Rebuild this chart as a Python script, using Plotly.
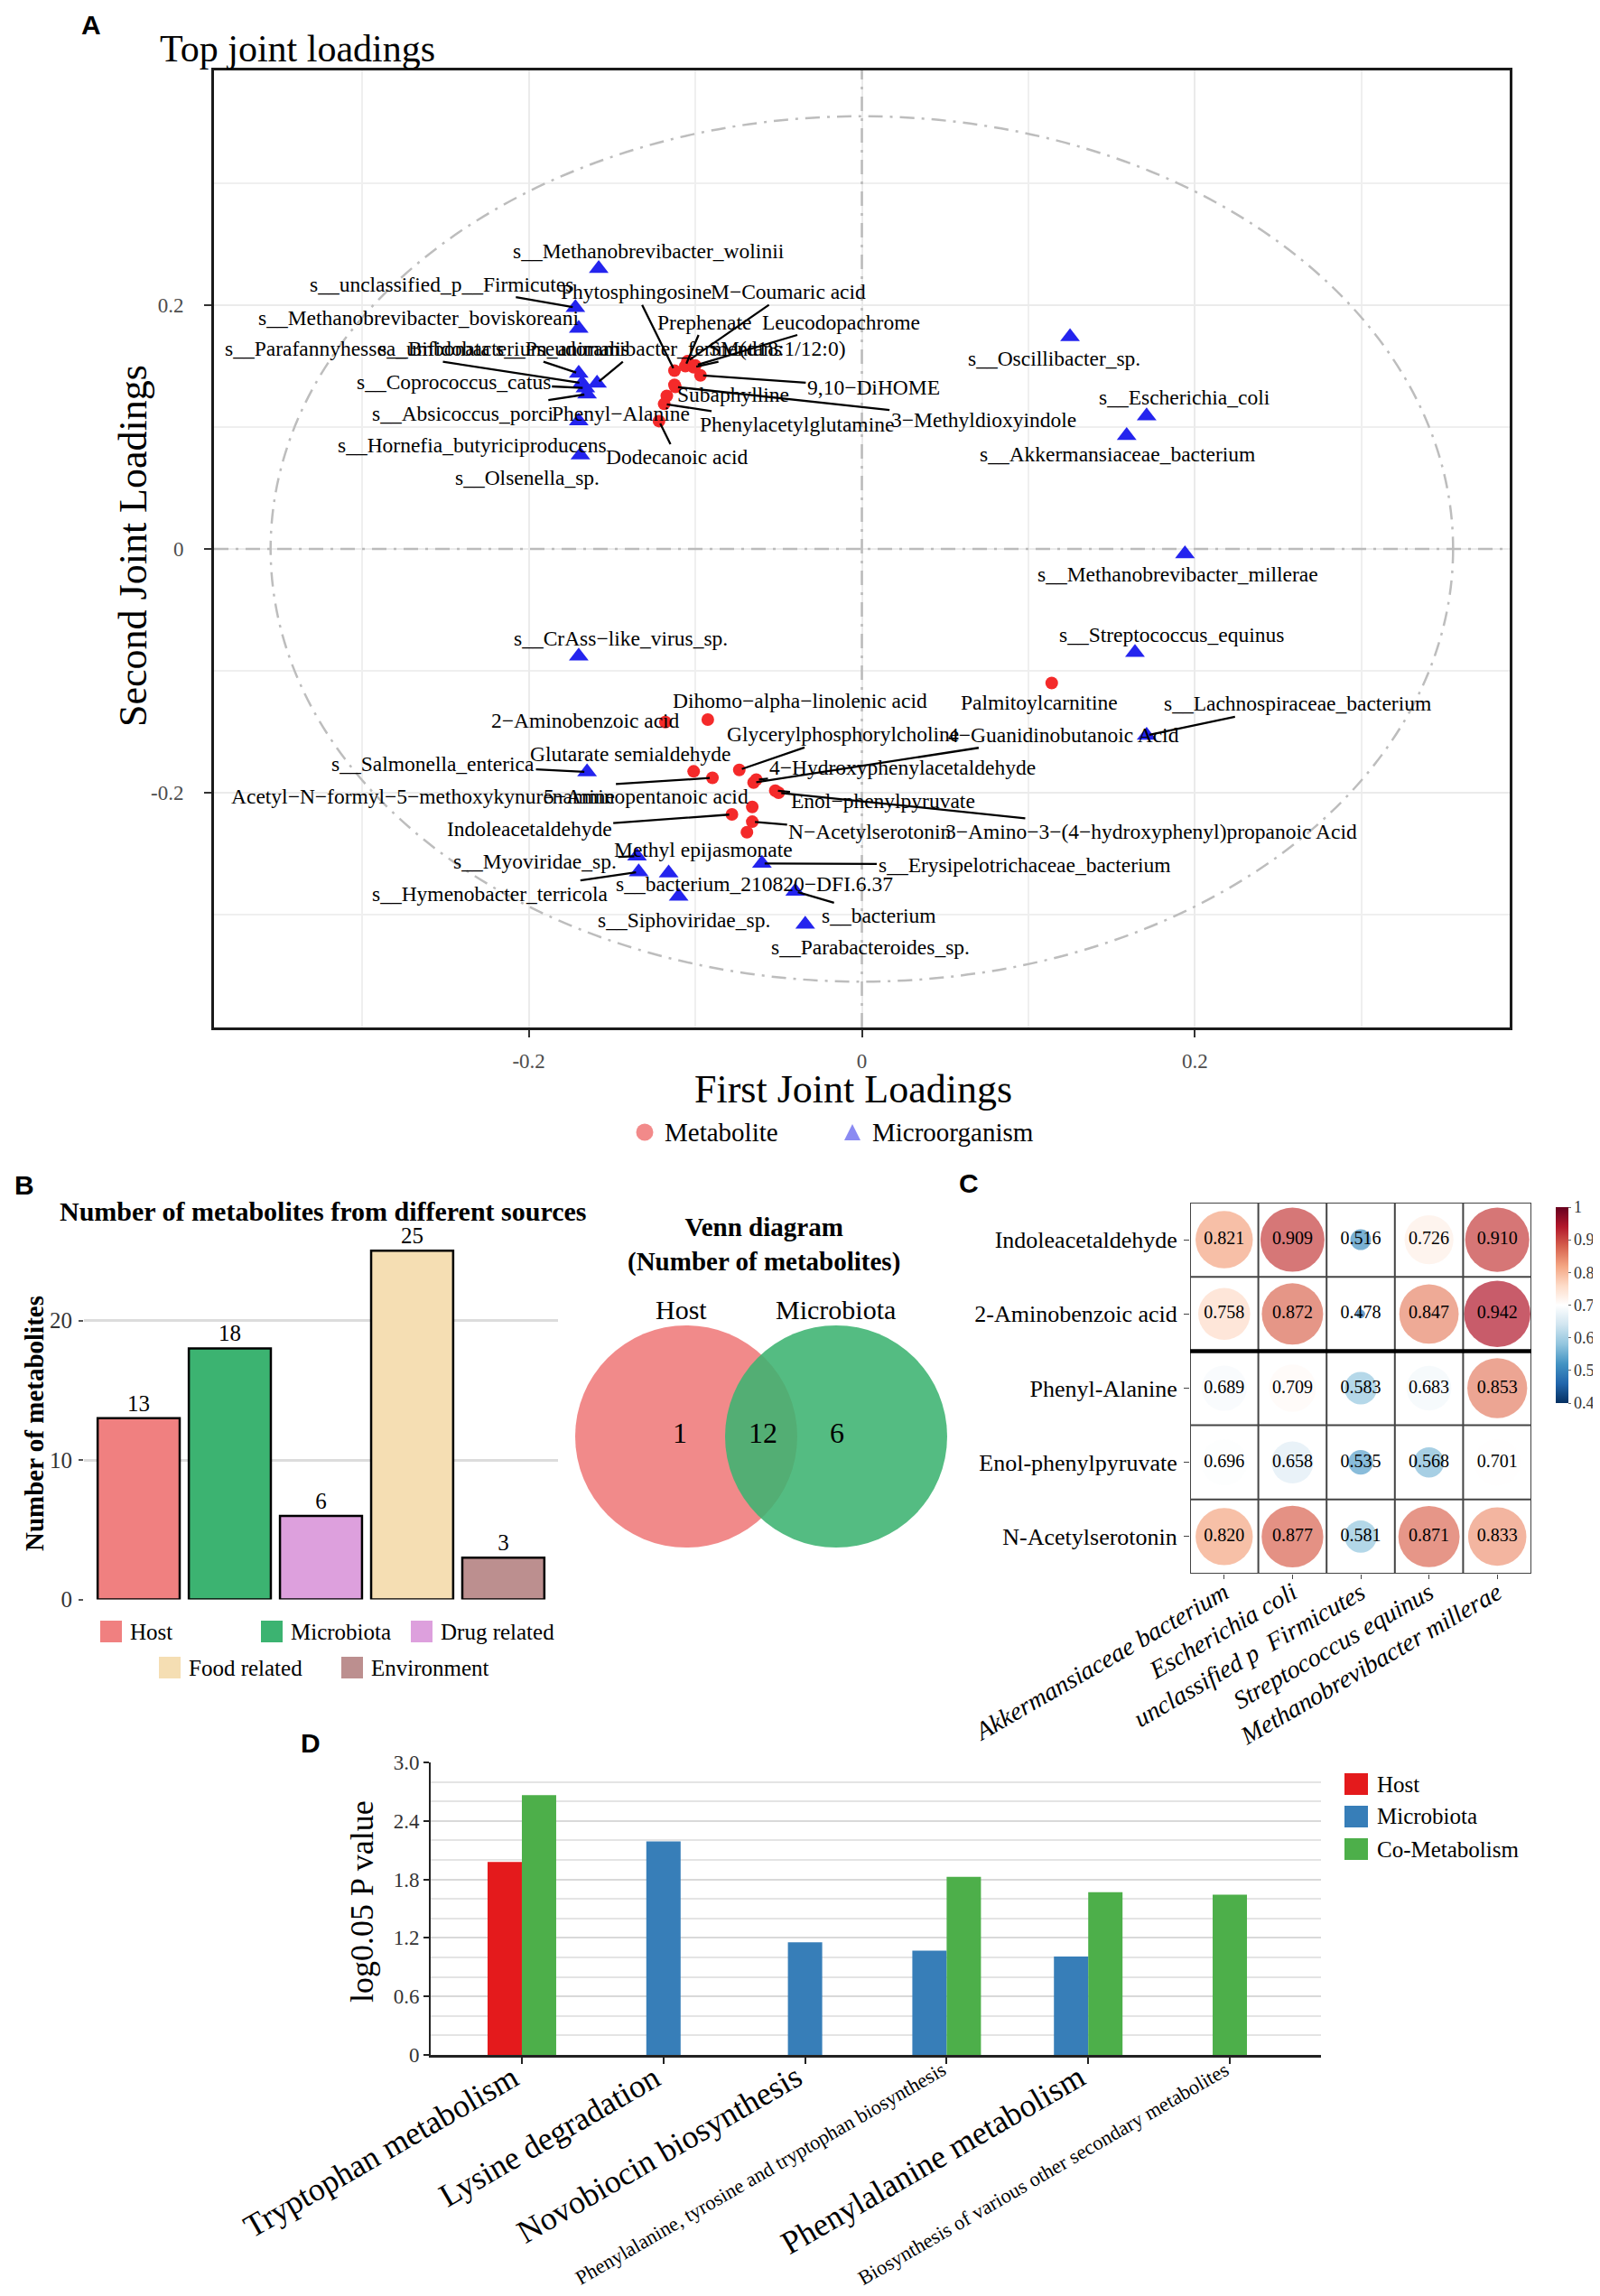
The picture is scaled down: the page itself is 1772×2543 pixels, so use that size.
import math
import plotly.graph_objects as go

W, H = 1772, 2543
def PX(v): return v / W
def PY(v): return 1 - v / H

SERIF = "Liberation Serif"
SANS = "Liberation Sans"
M = "\u2212"

# ---------------- Panel A data (joint loadings) ----------------
micro_names = [
    "s__Methanobrevibacter_wolinii", "s__unclassified_p__Firmicutes",
    "s__Methanobrevibacter_boviskoreani", "s__Parafannyhessea_umbonata",
    "s__Bifidobacterium_animalis", "s__Pseudoramibacter_fermentans",
    "s__Coprococcus_catus", "s__Absicoccus_porci",
    "s__Hornefia_butyriciproducens", "s__Olsenella_sp.",
    "s__Oscillibacter_sp.", "s__Escherichia_coli",
    "s__Akkermansiaceae_bacterium", "s__Methanobrevibacter_millerae",
    "s__Streptococcus_equinus", "s__Lachnospiraceae_bacterium",
    "s__CrAss" + M + "like_virus_sp.", "s__Salmonella_enterica",
    "s__Myoviridae_sp.", "s__Hymenobacter_terricola",
    "s__bacterium_210820" + M + "DFI.6.37", "s__Siphoviridae_sp.",
    "s__Erysipelotrichaceae_bacterium", "s__bacterium",
    "s__Parabacteroides_sp.",
]
micro_x = [-0.158, -0.172, -0.170, -0.168, -0.170, -0.159, -0.166, -0.165,
           -0.170, -0.169, 0.125, 0.171, 0.159, 0.194, 0.164, 0.171,
           -0.170, -0.165, -0.135, -0.134, -0.116, -0.110, -0.060, -0.040, -0.034]
micro_y = [0.230, 0.198, 0.181, 0.136, 0.144, 0.136, 0.132, 0.127,
           0.105, 0.077, 0.174, 0.109, 0.093, -0.004, -0.085, -0.153,
           -0.088, -0.183, -0.252, -0.265, -0.266, -0.285, -0.258, -0.281, -0.308]

meta_names = [
    "Phytosphingosine", "M" + M + "Coumaric acid", "Prephenate", "Leucodopachrome",
    "SM(d18:1/12:0)", "9,10" + M + "DiHOME", "Subaphylline", "3" + M + "Methyldioxyindole",
    "Phenyl" + M + "Alanine", "Phenylacetylglutamine", "Dodecanoic acid",
    "Palmitoylcarnitine", "Dihomo" + M + "alpha" + M + "linolenic acid",
    "2" + M + "Aminobenzoic acid", "Glycerylphosphorylcholine",
    "4" + M + "Guanidinobutanoic Acid", "Glutarate semialdehyde",
    "4" + M + "Hydroxyphenylacetaldehyde",
    "Acetyl" + M + "N" + M + "formyl" + M + "5" + M + "methoxykynurenamine",
    "5" + M + "Aminopentanoic acid", "Enol" + M + "phenylpyruvate",
    "3" + M + "Amino" + M + "3" + M + "(4" + M + "hydroxyphenyl)propanoic Acid",
    "Indoleacetaldehyde", "N" + M + "Acetylserotonin", "Methyl epijasmonate",
]
meta_x = [-0.1125, -0.1047, -0.106, -0.100, -0.101, -0.0969, -0.1125, -0.112,
          -0.1171, -0.1187, -0.1218, 0.114, -0.0925, -0.118, -0.0736, -0.065,
          -0.101, -0.0634, -0.0897, -0.0658, -0.052, -0.050, -0.078, -0.0658, -0.069]
meta_y = [0.1463, 0.154, 0.150, 0.1505, 0.149, 0.1424, 0.1346, 0.133,
          0.1256, 0.119, 0.1049, -0.110, -0.140, -0.142, -0.1813, -0.1917,
          -0.1825, -0.1893, -0.1878, -0.2117, -0.1983, -0.200, -0.2178, -0.2238, -0.2324]

# label placement (repel layout) and whether a connector segment is drawn
micro_lab = [(-0.128, 0.2444, 0), (-0.2526, 0.2173, 1), (-0.266, 0.190, 1),
             (-0.3027, 0.1643, 1), (-0.215, 0.1643, 1), (-0.134, 0.1643, 1),
             (-0.2452, 0.1372, 1), (-0.2396, 0.1114, 1), (-0.234, 0.0855, 0),
             (-0.201, 0.0584, 0), (0.1157, 0.1561, 0), (0.1938, 0.1248, 0),
             (0.1534, 0.0778, 0), (0.1895, -0.0209, 0), (0.186, -0.0707, 0),
             (0.2614, -0.127, 1), (-0.145, -0.0731, 0), (-0.2575, -0.1764, 1),
             (-0.1962, -0.256, 1), (-0.223, -0.2827, 1), (-0.0645, -0.2745, 0),
             (-0.1068, -0.3041, 0), (0.0976, -0.259, 1), (0.0103, -0.301, 1),
             (0.0049, -0.327, 0)]
meta_lab = [(-0.1358, 0.2109, 1), (-0.0444, 0.211, 1), (-0.0947, 0.1863, 1),
            (-0.0125, 0.1863, 1), (-0.051, 0.1643, 1), (0.007, 0.1326, 1),
            (-0.077, 0.1269, 0), (0.073, 0.1057, 1), (-0.145, 0.1114, 0),
            (-0.039, 0.1023, 1), (-0.111, 0.0752, 1), (0.1068, -0.1257, 0),
            (-0.0373, -0.1246, 0), (-0.166, -0.1406, 0), (-0.0116, -0.1521, 1),
            (0.121, -0.1524, 1), (-0.139, -0.1679, 0), (0.0244, -0.1793, 1),
            (-0.2637, -0.2032, 1), (-0.1298, -0.2032, 1), (0.013, -0.2063, 1),
            (0.174, -0.2317, 1), (-0.1997, -0.2299, 1), (0.005, -0.2317, 1),
            (-0.0952, -0.247, 0)]
CIRCLE_R = 0.355

# ---------------- Panel B data ----------------
source_names = ["Host", "Microbiota", "Drug related", "Food related", "Environment"]
source_counts = [13, 18, 6, 25, 3]
source_colors = ["#F08080", "#3CB371", "#DDA0DD", "#F5DEB3", "#BC8F8F"]
venn_sets = ["Host", "Microbiota"]
venn_counts = [1, 12, 6]  # host only, both, microbiota only

# ---------------- Panel C data ----------------
corr_rows = ["Indoleacetaldehyde", "2-Aminobenzoic acid", "Phenyl-Alanine",
             "Enol-phenylpyruvate", "N-Acetylserotonin"]
corr_cols = ["Akkermansiaceae bacterium", "Escherichia coli",
             "unclassified p\u00a0\u00a0Firmicutes", "Streptococcus equinus",
             "Methanobrevibacter millerae"]
corr_vals = [
    [0.821, 0.909, 0.516, 0.726, 0.910],
    [0.758, 0.872, 0.478, 0.847, 0.942],
    [0.689, 0.709, 0.583, 0.683, 0.853],
    [0.696, 0.658, 0.535, 0.568, 0.701],
    [0.820, 0.877, 0.581, 0.871, 0.833],
]

# ---------------- Panel D data ----------------
pathways = ["Tryptophan metabolism", "Lysine degradation", "Novobiocin biosynthesis",
            "Phenylalanine, tyrosine and tryptophan biosynthesis",
            "Phenylalanine metabolism",
            "Biosynthesis of various other secondary metabolites"]
pathway_font = [36, 36, 36, 22.5, 36, 22.5]
host_p = [1.98, None, None, None, None, None]
micro_p = [None, 2.19, 1.155, 1.07, 1.01, None]
co_p = [2.665, None, None, 1.827, 1.67, 1.643]
d_series = [("Host", host_p, "#E41A1C"), ("Microbiota", micro_p, "#377EB8"),
            ("Co-Metabolism", co_p, "#4DAF4A")]

fig = go.Figure()
ann = []
shapes = []

# ======================= Panel A =======================
fig.add_trace(go.Scatter(x=meta_x, y=meta_y, mode="markers", xaxis="x", yaxis="y",
                         marker=dict(color="#F42A2A", size=14), hoverinfo="skip"))
fig.add_trace(go.Scatter(x=micro_x, y=micro_y, mode="markers", xaxis="x", yaxis="y",
                         marker=dict(color="#2424EE", size=19, symbol="triangle-up"),
                         hoverinfo="skip"))
lab_font = dict(family=SERIF, size=23.5, color="black")
for names, xs, ys, labs in [(micro_names, micro_x, micro_y, micro_lab),
                            (meta_names, meta_x, meta_y, meta_lab)]:
    for n, x, y, (lx, ly, seg) in zip(names, xs, ys, labs):
        if seg:
            ann.append(dict(x=x, y=y, xref="x", yref="y", ax=lx, ay=ly, axref="x", ayref="y",
                            text=n, showarrow=True, arrowhead=0, arrowwidth=2.3,
                            arrowcolor="black", standoff=3, font=lab_font,
                            xanchor="center", yanchor="middle"))
        else:
            ann.append(dict(x=lx, y=ly, xref="x", yref="y", text=n, showarrow=False,
                            font=lab_font, xanchor="center", yanchor="middle"))

DD = "16px,8px,3px,8px"
shapes.append(dict(type="line", xref="x", yref="y", x0=-0.389, x1=0.389, y0=0, y1=0,
                   line=dict(color="#BBBBBB", width=2.5, dash=DD), layer="between"))
shapes.append(dict(type="line", xref="x", yref="y", x0=0, x1=0, y0=-0.3926, y1=0.3926,
                   line=dict(color="#BBBBBB", width=2.5, dash=DD), layer="between"))
shapes.append(dict(type="circle", xref="x", yref="y", x0=-CIRCLE_R, x1=CIRCLE_R,
                   y0=-CIRCLE_R, y1=CIRCLE_R,
                   line=dict(color="#BDBDBD", width=2.5, dash=DD), layer="between"))

ann.append(dict(x=PX(80), y=PY(19), xref="paper", yref="paper", text="<b>A</b>",
                showarrow=False, xanchor="left", yanchor="middle",
                font=dict(family=SANS, size=30, color="black")))
ann.append(dict(x=PX(167), y=PY(46), xref="paper", yref="paper", text="Top joint loadings",
                showarrow=False, xanchor="left", yanchor="middle",
                font=dict(family=SERIF, size=42, color="black")))
ann.append(dict(x=PX(937), y=PY(1198), xref="paper", yref="paper", text="First Joint Loadings",
                showarrow=False, xanchor="center", yanchor="middle",
                font=dict(family=SERIF, size=44, color="black")))
ann.append(dict(x=PX(140), y=PY(597), xref="paper", yref="paper", text="Second Joint Loadings",
                showarrow=False, xanchor="center", yanchor="middle", textangle=-90,
                font=dict(family=SERIF, size=44, color="black")))
# legend A
shapes.append(dict(type="circle", xref="paper", yref="paper",
                   x0=PX(696.5), x1=PX(715.5), y0=PY(1255.5), y1=PY(1236.5),
                   fillcolor="#F28A8A", line=dict(width=0)))
tri = "M {} {} L {} {} L {} {} Z".format(PX(927), PY(1255), PX(945), PY(1255), PX(936), PY(1237))
shapes.append(dict(type="path", xref="paper", yref="paper", path=tri,
                   fillcolor="#8A8AF2", line=dict(width=0)))
for t, x0 in [("Metabolite", 726), ("Microorganism", 956)]:
    ann.append(dict(x=PX(x0), y=PY(1246), xref="paper", yref="paper", text=t,
                    showarrow=False, xanchor="left", yanchor="middle",
                    font=dict(family=SERIF, size=29, color="black")))

# ======================= Panel B =======================
fig.add_trace(go.Bar(x=list(range(len(source_names))), y=source_counts, xaxis="x2", yaxis="y2",
                     width=0.9, marker=dict(color=source_colors, line=dict(color="black", width=2.5)),
                     text=[str(v) for v in source_counts], textposition="outside",
                     textfont=dict(family=SERIF, size=25, color="black"),
                     constraintext="none", cliponaxis=False, hoverinfo="skip"))
ann.append(dict(x=PX(6), y=PY(1304), xref="paper", yref="paper", text="<b>B</b>",
                showarrow=False, xanchor="left", yanchor="middle",
                font=dict(family=SANS, size=30, color="black")))
ann.append(dict(x=PX(350), y=PY(1333), xref="paper", yref="paper",
                text="<b>Number of metabolites from different sources</b>",
                showarrow=False, xanchor="center", yanchor="middle",
                font=dict(family=SERIF, size=30, color="black")))
ann.append(dict(x=PX(30), y=PY(1569), xref="paper", yref="paper",
                text="<b>Number of metabolites</b>", textangle=-90,
                showarrow=False, xanchor="center", yanchor="middle",
                font=dict(family=SERIF, size=29, color="black")))
leg_b = [(0, 103, 1799), (1, 281, 1799), (2, 447, 1799), (3, 168, 1839), (4, 370, 1839)]
for i, x0, yc in leg_b:
    shapes.append(dict(type="rect", xref="paper", yref="paper", x0=PX(x0), x1=PX(x0 + 24),
                       y0=PY(yc + 12), y1=PY(yc - 12), fillcolor=source_colors[i],
                       line=dict(width=0)))
    ann.append(dict(x=PX(x0 + 31), y=PY(yc), xref="paper", yref="paper", text=source_names[i],
                    showarrow=False, xanchor="left", yanchor="middle",
                    font=dict(family=SERIF, size=25, color="black")))

# Venn
shapes.append(dict(type="circle", xref="paper", yref="paper", x0=PX(629), x1=PX(875),
                   y0=PY(1706), y1=PY(1460), fillcolor="#F08080", opacity=0.92,
                   line=dict(width=0)))
shapes.append(dict(type="circle", xref="paper", yref="paper", x0=PX(795), x1=PX(1041),
                   y0=PY(1706), y1=PY(1460), fillcolor="#3CB371", opacity=0.88,
                   line=dict(width=0)))
ann.append(dict(x=PX(838), y=PY(1370), xref="paper", yref="paper",
                text="<b>Venn diagram</b><br><b>(Number of metabolites)</b>",
                showarrow=False, xanchor="center", yanchor="middle",
                font=dict(family=SERIF, size=29, color="black")))
for t, xc in [(venn_sets[0], 746), (venn_sets[1], 917)]:
    ann.append(dict(x=PX(xc), y=PY(1442), xref="paper", yref="paper", text=t,
                    showarrow=False, xanchor="center", yanchor="middle",
                    font=dict(family=SERIF, size=30, color="black")))
for v, xc in zip(venn_counts, [745, 837, 919]):
    ann.append(dict(x=PX(xc), y=PY(1579), xref="paper", yref="paper", text=str(v),
                    showarrow=False, xanchor="center", yanchor="middle",
                    font=dict(family=SERIF, size=32, color="black")))

# ======================= Panel C =======================
RDBU = ["#053061", "#2166AC", "#4393C3", "#92C5DE", "#D1E5F0", "#FFFFFF",
        "#FDDBC7", "#F4A582", "#D6604D", "#B2182B", "#67001F"]
cscale = [[i / 10, c] for i, c in enumerate(RDBU)]
cx, cy, cv, cs, ct = [], [], [], [], []
for r, row in enumerate(corr_vals):
    for c, v in enumerate(row):
        cx.append(c + 1); cy.append(r + 1); cv.append(v)
        cs.append(78 * math.sqrt(max(v - 0.47, 0.0) / 0.53))
        ct.append("%.3f" % v)
fig.add_trace(go.Scatter(
    x=cx, y=cy, xaxis="x3", yaxis="y3", mode="markers+text", text=ct,
    textposition="middle center", textfont=dict(family=SERIF, size=20, color="black"),
    marker=dict(size=cs, color=cv, colorscale=cscale, cmin=0.4, cmax=1.0,
                line=dict(width=0),
                colorbar=dict(x=PX(1715), xanchor="left", y=PY(1437.5), yanchor="middle",
                              len=217 / H, lenmode="fraction", thickness=14,
                              thicknessmode="pixels", xpad=0, ypad=0, outlinewidth=0,
                              tickvals=[0.4, 0.5, 0.6, 0.7, 0.8, 0.9, 1.0],
                              ticktext=["0.4", "0.5", "0.6", "0.7", "0.8", "0.9", "1"],
                              ticks="outside", ticklen=3, tickcolor="#666",
                              tickfont=dict(family=SERIF, size=18, color="#333"))),
    hoverinfo="skip"))
for k in range(6):
    shapes.append(dict(type="line", xref="x3", yref="y3", x0=0.5 + k, x1=0.5 + k,
                       y0=0.5, y1=5.5, line=dict(color="#444444", width=2)))
    shapes.append(dict(type="line", xref="x3", yref="y3", x0=0.5, x1=5.5,
                       y0=0.5 + k, y1=0.5 + k, line=dict(color="#444444", width=2)))
shapes.append(dict(type="line", xref="x3", yref="y3", x0=0.5, x1=5.5, y0=2.5, y1=2.5,
                   line=dict(color="black", width=4.5)))
ann.append(dict(x=PX(1052), y=PY(1302), xref="paper", yref="paper", text="<b>C</b>",
                showarrow=False, xanchor="left", yanchor="middle",
                font=dict(family=SANS, size=30, color="black")))

# ======================= Panel D =======================
BW = 0.2423
for name, vals, col in d_series:
    xs, ys, offs = [], [], []
    for i, v in enumerate(vals):
        if v is None:
            continue
        present = [s for s in d_series if s[1][i] is not None]
        n = len(present)
        k = [s[0] for s in present].index(name)
        xs.append(i); ys.append(v); offs.append(-n * BW / 2 + k * BW)
    fig.add_trace(go.Bar(x=xs, y=ys, offset=offs, width=[BW] * len(xs), xaxis="x4", yaxis="y4",
                         marker=dict(color=col, line=dict(width=0)), hoverinfo="skip"))
for i, (p, fs) in enumerate(zip(pathways, pathway_font)):
    ann.append(dict(x=i, y=0, xref="x4", yref="y4", text=p, showarrow=False,
                    xanchor="right", yanchor="top", textangle=-30, yshift=-1, xshift=6,
                    font=dict(family=SERIF, size=fs, color="black")))
ann.append(dict(x=PX(323), y=PY(1922), xref="paper", yref="paper", text="<b>D</b>",
                showarrow=False, xanchor="left", yanchor="middle",
                font=dict(family=SANS, size=30, color="black")))
ann.append(dict(x=PX(393), y=PY(2098), xref="paper", yref="paper", text="log0.05 P value",
                showarrow=False, xanchor="center", yanchor="middle", textangle=-90,
                font=dict(family=SERIF, size=36, color="black")))
for j, (name, vals, col) in enumerate(d_series):
    yc = 1968 + 36 * j
    shapes.append(dict(type="rect", xref="paper", yref="paper", x0=PX(1481), x1=PX(1507),
                       y0=PY(yc + 12), y1=PY(yc - 12), fillcolor=col, line=dict(width=0)))
    ann.append(dict(x=PX(1515), y=PY(yc), xref="paper", yref="paper", text=name,
                    showarrow=False, xanchor="left", yanchor="middle",
                    font=dict(family=SERIF, size=25, color="black")))

# ======================= Layout =======================
tick_grey = "#4D4D4D"
fig.update_layout(
    template="none",
    width=W, height=H, margin=dict(l=0, r=0, t=0, b=0, autoexpand=False),
    paper_bgcolor="white", plot_bgcolor="rgba(0,0,0,0)", showlegend=False,
    barmode="overlay", annotations=ann, shapes=shapes,
    xaxis=dict(domain=[PX(229), PX(1664)], range=[-0.389, 0.389], anchor="y", automargin=False,
               tickvals=[-0.2, 0, 0.2], ticktext=["-0.2", "0", "0.2"],
               showgrid=True, gridcolor="#EBEBEB", gridwidth=2,
               minor=dict(tickvals=[-0.3, -0.1, 0.1, 0.3], showgrid=True,
                          gridcolor="#EFEFEF", gridwidth=1.6),
               zeroline=False, showline=True, linecolor="#1A1A1A", linewidth=3, mirror=True,
               ticks="outside", ticklen=8, tickwidth=2, tickcolor="#333",
               ticklabelstandoff=6,
               tickfont=dict(family=SERIF, size=23, color=tick_grey)),
    yaxis=dict(domain=[PY(1130), PY(70)], range=[-0.3926, 0.3926], anchor="x", automargin=False,
               tickvals=[-0.2, 0, 0.2], ticktext=["-0.2", "0", "0.2"],
               showgrid=True, gridcolor="#EBEBEB", gridwidth=2,
               minor=dict(tickvals=[-0.3, -0.1, 0.1, 0.3], showgrid=True,
                          gridcolor="#EFEFEF", gridwidth=1.6),
               zeroline=False, showline=True, linecolor="#1A1A1A", linewidth=3, mirror=True,
               ticks="outside", ticklen=8, tickwidth=2, tickcolor="#333",
               ticklabelstandoff=18,
               tickfont=dict(family=SERIF, size=23, color=tick_grey)),
    xaxis2=dict(domain=[PX(85), PX(610)], range=[-0.6, 4.6], anchor="y2", automargin=False,
                showgrid=False, zeroline=False, showticklabels=False, ticks=""),
    yaxis2=dict(domain=[PY(1763.6), PY(1346.4)], range=[0, 27], anchor="x2", automargin=False,
                tickvals=[0, 10, 20], showgrid=True, gridcolor="#DCDCDC", gridwidth=3,
                zeroline=False, showline=False, ticks="outside", ticklen=5, tickwidth=1.5,
                tickcolor="#555", ticklabelstandoff=2,
                tickfont=dict(family=SERIF, size=25, color="#333")),
    xaxis3=dict(domain=[PX(1310), PX(1688)], range=[0.5, 5.5], anchor="y3", automargin=False,
                tickvals=[1, 2, 3, 4, 5], ticktext=["<i>%s</i>" % c for c in corr_cols],
                tickangle=-30, showgrid=False, zeroline=False, ticks="outside", ticklen=5,
                ticklabelstandoff=-12,
                tickcolor="#444", tickfont=dict(family=SERIF, size=28, color="black")),
    yaxis3=dict(domain=[PY(1735), PY(1324)], range=[5.5, 0.5], anchor="x3", automargin=False,
                tickvals=[1, 2, 3, 4, 5], ticktext=corr_rows, showgrid=False, zeroline=False,
                ticks="outside", ticklen=6, tickcolor="#444", ticklabelstandoff=2,
                tickfont=dict(family=SERIF, size=26, color="black")),
    xaxis4=dict(domain=[PX(469), PX(1455)], range=[-0.644, 5.644], anchor="y4", automargin=False,
                tickvals=list(range(6)), showticklabels=False, showgrid=False, zeroline=False,
                showline=True, linecolor="#222", linewidth=2.5, ticks="outside", ticklen=7,
                tickwidth=2, tickcolor="#222"),
    yaxis4=dict(domain=[PY(2268), PY(1944)], range=[0, 3.0], anchor="x4", automargin=False,
                tickvals=[0, 0.6, 1.2, 1.8, 2.4, 3.0],
                ticktext=["0", "0.6", "1.2", "1.8", "2.4", "3.0"],
                showgrid=True, gridcolor="#D9D9D9", gridwidth=2,
                minor=dict(tickvals=[0.2, 0.4, 0.8, 1.0, 1.4, 1.6, 2.0, 2.2, 2.6, 2.8],
                           showgrid=True, gridcolor="#E4E4E4", gridwidth=2),
                zeroline=False, showline=True, linecolor="#222", linewidth=2,
                ticks="outside", ticklen=6, tickwidth=1.5, tickcolor="#222",
                tickfont=dict(family=SERIF, size=23, color="#333")),
)
fig.write_html("out.html")
